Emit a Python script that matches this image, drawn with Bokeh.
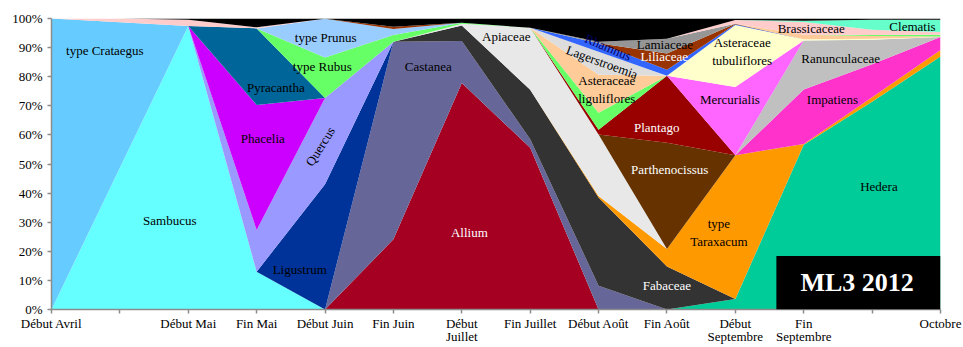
import numpy as np
import pandas as pd
from bokeh.plotting import figure
from bokeh.models import ColumnDataSource, FixedTicker, Label, BoxAnnotation, PrintfTickFormatter
from bokeh.embed import file_html
from bokeh.resources import INLINE

# ---------------- data (percent of pollen per sampling period) ----------------
periods = ["Début Avril", "", "Début Mai", "Fin Mai", "Début Juin", "Fin Juin",
           "Début\nJuillet", "Fin Juillet", "Début Août", "Fin Août",
           "Début\nSeptembre", "Fin\nSeptembre", "", "Octobre"]

hedera        = [0, 0, 0, 0, 0, 0, 0, 0, 0, 0, 3.6, 56.6, 71.4, 86.9]
allium        = [0, 0, 0, 0, 0, 24.1, 77.8, 55.6, 0, 0, 0, 0, 0, 0]
castanea      = [0, 0, 0, 0, 0, 67.9, 14.5, 2.9, 8.2, 0, 0, 0, 0, 0]
sambucus      = [0, 48.7, 97.4, 13.0, 0, 0, 0, 0, 0, 0, 0, 0, 0, 0]
crataegus     = [100, 50, 0, 0, 0, 0, 0, 0, 0, 0, 0, 0, 0, 0]
ligustrum     = [0, 0, 0, 0, 43.0, 0, 0, 0, 0, 0, 0, 0, 0, 0]
quercus       = [0, 0, 0, 14.3, 29.7, 0, 0, 0, 0, 0, 0, 0, 0, 0]
phacelia      = [0, 0, 0, 43.0, 0, 0, 0, 0, 0, 0, 0, 0, 0, 0]
pyracantha    = [0, 0, 0, 26.3, 0, 0, 0, 0, 0, 0, 0, 0, 0, 0]
fabaceae      = [0, 0, 0, 0, 0, 0, 5.3, 17.0, 30.3, 14.8, 0, 0, 0, 0]
taraxacum     = [0, 0, 0, 0, 0, 0, 0, 0, 0.5, 6.0, 49.4, 0.3, 1.5, 2.3]
apiaceae      = [0, 0, 0, 0, 0, 0, 0.6, 21.3, 21.1, 0, 0, 0, 0, 0]
rubus         = [0, 0, 0, 0, 13.9, 2.3, 0.3, 0, 0, 0, 0, 0, 0, 0]
prunus        = [0, 0, 0, 0, 13.3, 2.1, 0, 0, 0, 0, 0, 0, 0, 0]
parthenociss  = [0, 0, 0, 0, 0, 0, 0, 0, 0, 36.5, 0, 0, 0, 0]
plantago      = [0, 0, 0, 0, 0, 0, 0, 0, 1.7, 23.0, 0, 0, 0, 0]
autre_vert    = [0, 0, 0, 0, 0, 0, 0, 0, 5.8, 0, 0, 0, 0, 0]
ast_ligul     = [0, 0, 0, 0, 0, 0, 0, 0, 13.1, 0, 0, 0, 0, 0]
lagerstroemia = [0, 0, 0, 0, 0, 0, 0, 0, 7.9, 0, 0, 0, 0, 0]
impatiens     = [0, 0, 0, 0, 0, 0, 0, 0, 0, 0, 0, 18.7, 11.4, 4.4]
ranunculaceae = [0, 0, 0, 0, 0, 0, 0, 0, 0, 0, 0, 16.8, 8.4, 0]
mercurialis   = [0, 0, 0, 0, 0, 0, 0, 0, 0, 0, 23.5, 0, 0, 0]
ast_tubul     = [0, 0, 0, 0, 0, 0, 0, 0, 0, 0, 21.3, 0.5, 0.3, 0]
rhamnus       = [0, 0, 0, 0, 0, 0, 0, 0, 2.9, 2.1, 0.2, 0, 0, 0]
liliaceae     = [0, 0, 0, 0, 0, 0.8, 0, 0, 0, 5.6, 0.2, 0, 0, 0]
lamiaceae     = [0, 0, 0, 0, 0, 0, 0, 0, 0.5, 5.0, 0, 0, 0, 0]
autre_peche   = [0, 0, 0, 0, 0, 0, 0, 0, 0, 0, 0, 1.5, 1.0, 0.2]
autre_vert2   = [0, 0, 0, 0, 0, 0, 0, 0, 0, 0, 0, 0, 0.3, 0.6]
brassicaceae  = [0, 1.3, 2.2, 0.4, 0, 0, 0, 0, 0, 0, 1.3, 4.4, 1.8, 1.0]
clematis      = [0, 0, 0, 0, 0, 0, 0, 0, 0, 0, 0, 0.4, 3.5, 4.2]
autres        = [0, 0, 0.4, 3.0, 0.1, 2.8, 1.5, 3.2, 8.0, 7.0, 0.5, 0.8, 0.4, 0.4]

# stack order (bottom -> top) and colours
stack = [
    ("Hedera", hedera, "#00CC99"),
    ("Allium", allium, "#A50021"),
    ("Castanea", castanea, "#666699"),
    ("Sambucus", sambucus, "#66FFFF"),
    ("type Crataegus", crataegus, "#66CCFF"),
    ("Ligustrum", ligustrum, "#003399"),
    ("Quercus", quercus, "#9999FF"),
    ("Phacelia", phacelia, "#CC00FF"),
    ("Pyracantha", pyracantha, "#006699"),
    ("Fabaceae", fabaceae, "#333333"),
    ("type Taraxacum", taraxacum, "#FF9900"),
    ("Apiaceae", apiaceae, "#E8E8E8"),
    ("type Rubus", rubus, "#66FF66"),
    ("type Prunus", prunus, "#99CCFF"),
    ("Parthenocissus", parthenociss, "#663300"),
    ("Plantago", plantago, "#990000"),
    ("autre vert", autre_vert, "#66FF66"),
    ("Asteraceae liguliflores", ast_ligul, "#FFCC99"),
    ("Lagerstroemia", lagerstroemia, "#DDDDDD"),
    ("Impatiens", impatiens, "#FF33CC"),
    ("Ranunculaceae", ranunculaceae, "#C0C0C0"),
    ("Mercurialis", mercurialis, "#FF66FF"),
    ("Asteraceae tubuliflores", ast_tubul, "#FFFFCC"),
    ("Rhamnus", rhamnus, "#3366FF"),
    ("Liliaceae", liliaceae, "#993300"),
    ("Lamiaceae", lamiaceae, "#969696"),
    ("autre pêche", autre_peche, "#FFCC99"),
    ("autre vert 2", autre_vert2, "#66FF66"),
    ("Brassicaceae", brassicaceae, "#FFCCCC"),
    ("Clematis", clematis, "#66FFCC"),
    ("Autres", autres, "#000000"),
]

df = pd.DataFrame({name: vals for name, vals, _ in stack})
df = df.div(df.sum(axis=1), axis=0) * 100.0   # 100 % stacked
df["x"] = np.arange(len(periods))
source = ColumnDataSource(df)
names = [n for n, _, _ in stack]
colors = [c for _, _, c in stack]

# ---------------- figure ----------------
p = figure(width=963, height=347, x_range=(0, len(periods) - 1), y_range=(0, 100),
           output_backend="svg", toolbar_location=None,
           min_border_left=51, min_border_right=23, min_border_top=18, min_border_bottom=37)
p.varea_stack(stackers=names, x="x", color=colors, source=source)

p.grid.visible = False
p.outline_line_color = None
p.background_fill_color = "white"

FONT = "Liberation Serif"
for ax in (p.xaxis[0], p.yaxis[0]):
    ax.axis_line_color = "#8C8C8C"
    ax.axis_line_width = 1.5
    ax.major_tick_line_color = "#8C8C8C"
    ax.major_tick_line_width = 1.5
    ax.major_tick_in = 0
    ax.major_tick_out = 4
    ax.minor_tick_line_color = None
    ax.major_label_text_font = FONT
    ax.major_label_text_font_size = "13px"
    ax.major_label_text_color = "black"

p.xaxis.ticker = FixedTicker(ticks=list(range(len(periods))))
p.xaxis.major_label_overrides = {i: lab for i, lab in enumerate(periods)}
p.xaxis.major_label_standoff = 2
p.xaxis.major_label_text_line_height = 0.9
p.yaxis.ticker = FixedTicker(ticks=list(range(0, 101, 10)))
p.yaxis.formatter = PrintfTickFormatter(format="%d%%")
p.yaxis.major_label_standoff = 5

# ---------------- in-area labels (x = period index, y = percent) ----------------
labels = [
    ("type Crataegus", 0.78, 89.0, "black", 0),
    ("Sambucus", 1.73, 30.5, "black", 0),
    ("Pyracantha", 3.28, 76.3, "black", 0),
    ("type Prunus", 4.01, 93.4, "black", 0),
    ("type Rubus", 3.96, 83.5, "black", 0),
    ("Phacelia", 3.09, 58.7, "black", 0),
    ("Quercus", 3.93, 56.0, "black", 58),
    ("Ligustrum", 3.63, 13.6, "black", 0),
    ("Castanea", 5.51, 83.5, "black", 0),
    ("Allium", 6.11, 26.5, "white", 0),
    ("Apiaceae", 6.65, 93.8, "black", 0),
    ("Rhamnus", 8.14, 90.1, "#000066", -23),
    ("Lagerstroemia", 8.05, 85.0, "black", -20),
    ("Lamiaceae", 8.97, 90.9, "black", 0),
    ("Liliaceae", 8.96, 86.9, "white", 0),
    ("Asteraceae\nliguliflores", 8.12, 75.5, "black", 0),
    ("Plantago", 8.85, 62.5, "white", 0),
    ("Parthenocissus", 9.04, 48.1, "white", 0),
    ("Asteraceae\ntubuliflores", 10.1, 88.8, "black", 0),
    ("Mercurialis", 9.92, 72.3, "black", 0),
    ("Brassicaceae", 11.11, 96.6, "black", 0),
    ("Clematis", 12.59, 97.2, "black", 0),
    ("Ranunculaceae", 11.54, 86.4, "black", 0),
    ("Impatiens", 11.42, 72.1, "black", 0),
    ("Hedera", 12.1, 42.4, "black", 0),
    ("type\nTaraxacum", 9.76, 26.6, "black", 0),
    ("Fabaceae", 9.0, 8.2, "white", 0),
]
for txt, lx, ly, col, ang in labels:
    p.add_layout(Label(x=lx, y=ly, text=txt, text_color=col, text_font=FONT,
                       text_font_size="13px", text_align="center",
                       text_baseline="middle", angle=np.deg2rad(ang)))

# station tag
p.add_layout(BoxAnnotation(left=10.6, right=13, bottom=0, top=18.4,
                           fill_color="black", fill_alpha=1, line_color=None))
p.add_layout(Label(x=11.78, y=9.3, text="ML3 2012", text_color="white", text_font=FONT,
                   text_font_size="26px", text_font_style="bold",
                   text_align="center", text_baseline="middle"))

open("out.html", "w").write(file_html(p, INLINE))
